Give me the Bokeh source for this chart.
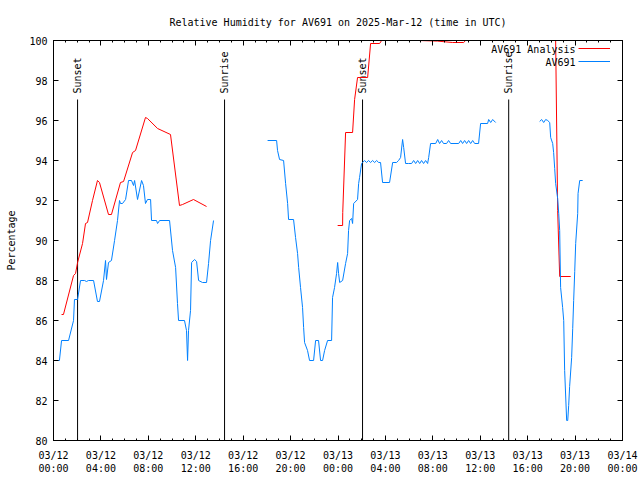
import math
from bokeh.plotting import figure
from bokeh.models import FixedTicker, LinearAxis, Range1d, Legend, LegendItem, Label
from bokeh.core.properties import value
from bokeh.embed import file_html
from bokeh.resources import INLINE

NaN = float("nan")

# Hours since 03/12 00:00 UTC
analysis_hours = [0.68, 0.84, 1.69, 1.86, 2.03, 2.45, 2.70, 2.87, 3.29, 3.71, 3.88, 4.64, 4.89,
                  5.65, 5.91, 6.67, 6.92, 7.76, 7.93, 8.78, 9.87, 10.63, 10.89, 11.81, 12.91,
                  NaN,
                  23.97, 24.39, 24.40, 24.64, 25.23, 25.40, 25.65, 26.50, 26.75, 27.51, 27.68,
                  30.80, 32.40, 33.67, 34.60, 34.77, 38.00, 42.36, 42.53, 42.70, 43.63]
analysis_rh = [86.3, 86.3, 88.25, 88.35, 88.9, 89.85, 90.85, 90.9, 92.0, 93.0, 92.9, 91.3, 91.3,
               92.9, 92.95, 94.4, 94.5, 96.15, 96.1, 95.6, 95.3, 91.75, 91.8, 92.05, 91.7,
               NaN,
               90.75, 90.75, 91.4, 95.4, 95.4, 97.05, 98.15, 98.15, 99.85, 99.85, 100.0,
               100.0, 99.97, 99.9, 99.9, 100.0, 100.0, 100.0, 91.5, 88.2, 88.2]

obs_hours = [0.0, 0.5, 0.68, 1.27, 1.69, 1.77, 2.03, 2.28, 2.62, 2.78, 2.95, 3.38, 3.71, 3.88,
             4.22, 4.39, 4.47, 4.64, 4.89, 5.15, 5.40, 5.57, 5.65, 5.82, 6.08, 6.33, 6.58, 6.75,
             6.84, 7.09, 7.43, 7.59, 7.76, 7.93, 8.19, 8.27, 8.69, 8.78, 8.95, 9.79, 10.04, 10.30,
             10.46, 10.55, 11.05, 11.22, 11.31, 11.39, 11.56, 11.65, 11.90, 12.07, 12.24, 12.57,
             12.91, 13.08, 13.25, 13.50,
             NaN,
             18.06, 18.82, 18.90, 19.07, 19.41, 19.58, 19.75, 19.83, 20.25, 20.42, 20.59, 20.68,
             20.84, 21.01, 21.10, 21.18, 21.43, 21.60, 21.94, 22.11, 22.36, 22.53, 22.70, 22.87,
             23.12, 23.46, 23.54, 23.71, 23.88, 23.97, 24.05, 24.14, 24.39, 24.64, 24.81, 24.89,
             24.98, 25.15, 25.23, 25.32, 25.65, 25.74, 25.82, 25.99, 26.08, 26.24, 26.41, 26.58,
             26.75, 26.92, 27.09, 27.26, 27.43, 27.59, 27.76, 28.35, 28.61, 28.94, 29.11, 29.28,
             29.45, 29.54, 29.70, 29.96, 30.21, 30.38, 30.55, 30.72, 30.89, 31.05, 31.22, 31.39,
             31.56, 31.65, 31.81, 32.24, 32.41, 32.57, 32.74, 32.90, 33.16, 33.33, 33.50, 34.18,
             34.35, 34.51, 34.68, 34.85, 35.02, 35.19, 35.36, 35.53, 35.86, 36.03, 36.62, 36.71,
             36.88, 37.05, 37.30,
             NaN,
             41.01, 41.18, 41.35, 41.52, 41.69, 41.86, 41.94, 42.11, 42.19, 42.28, 42.36, 42.53,
             42.62, 42.70, 42.78, 42.95, 43.04, 43.12, 43.29, 43.38, 43.46, 43.54, 43.71, 43.80,
             43.88, 43.97, 44.05, 44.22, 44.25, 44.39, 44.64]
obs_rh = [84.0, 84.0, 85.0, 85.0, 86.0, 87.05, 87.05, 88.0, 88.0, 87.95, 88.0, 88.0, 86.95, 86.95,
          88.0, 89.0, 88.05, 88.9, 89.0, 90.0, 91.0, 92.0, 91.85, 91.85, 92.05, 93.0, 93.0, 92.75,
          93.0, 92.05, 93.0, 92.75, 91.85, 92.05, 92.05, 91.0, 91.0, 90.85, 91.0, 91.0, 89.5, 88.65,
          86.85, 86.0, 86.0, 85.5, 84.0, 85.5, 86.5, 88.9, 89.05, 88.95, 88.0, 87.9,
          87.9, 88.85, 90.0, 91.0,
          NaN,
          95.0, 95.0, 94.5, 94.05, 94.0, 92.85, 91.85, 91.05, 91.05, 90.15, 89.35, 88.65,
          87.65, 86.65, 85.65, 84.9, 84.5, 84.0, 84.0, 85.0, 85.0, 84.0, 84.0, 84.5,
          85.0, 85.0, 87.15, 87.65, 88.35, 88.9, 88.35, 87.9, 88.0, 88.85, 89.35, 90.5,
          91.0, 91.1, 90.85, 91.85, 92.05, 92.85, 93.15, 93.85, 93.9, 94.0, 93.9, 94.0,
          93.9, 94.0, 93.9, 94.0, 93.9, 93.9, 92.9, 92.9, 93.9, 93.9, 94.0, 94.15,
          95.05, 94.65, 93.85, 93.85, 93.85, 94.0, 93.85, 94.0, 93.85, 94.0, 93.85, 94.0,
          93.85, 94.15, 94.85, 94.85, 95.05, 94.85, 95.0, 94.85, 94.85, 95.0, 94.85, 94.85,
          95.0, 94.85, 95.0, 94.85, 95.0, 94.85, 95.0, 94.85, 94.85, 95.85, 95.85, 96.05,
          95.9, 96.05, 95.9,
          NaN,
          95.95, 96.05, 95.9, 96.05, 96.0, 95.9, 95.15, 94.85, 94.4, 93.6, 92.85, 92.1,
          91.35, 90.5, 87.65, 86.65, 86.0, 83.5, 81.0, 81.0, 81.75, 82.7, 84.15, 85.6,
          87.0, 88.45, 89.85, 91.35, 92.35, 93.0, 93.0]

event_hours = [2.03, 14.43, 26.07, 38.40]
event_labels = ["Sunset", "Sunrise", "Sunset", "Sunrise"]
event_line_top = 97.05
event_label_y = 97.35

series_names = ["AV691 Analysis", "AV691"]

x_ticks = [0, 4, 8, 12, 16, 20, 24, 28, 32, 36, 40, 44, 48]
x_tick_labels = ["03/12\n00:00", "03/12\n04:00", "03/12\n08:00", "03/12\n12:00",
                 "03/12\n16:00", "03/12\n20:00", "03/13\n00:00", "03/13\n04:00",
                 "03/13\n08:00", "03/13\n12:00", "03/13\n16:00", "03/13\n20:00",
                 "03/14\n00:00"]
x_minor = list(range(0, 49))
y_ticks = [80, 82, 84, 86, 88, 90, 92, 94, 96, 98, 100]

FONT = "DejaVu Sans Mono"
FS = "10px"
RED = "#ff0000"
BLUE = "#0080ff"

p = figure(width=640, height=480, output_backend="svg", toolbar_location=None,
           x_range=Range1d(0, 48), y_range=Range1d(80, 100),
           title="Relative Humidity for AV691 on 2025-Mar-12 (time in UTC)",
           min_border_left=53, min_border_right=18, min_border_top=40, min_border_bottom=40)

p.title.align = "center"
p.title.text_font = FONT
p.title.text_font_size = FS
p.title.text_font_style = "normal"
p.title.text_color = "black"
p.title.standoff = 26

p.grid.visible = False
p.outline_line_color = "black"
p.outline_line_alpha = 1
p.outline_line_width = 1
p.background_fill_color = "white"
p.border_fill_color = "white"

xt = FixedTicker(ticks=x_ticks, minor_ticks=x_minor)
yt = FixedTicker(ticks=y_ticks, minor_ticks=[])

def style_axis(ax, ticker, labels=True):
    ax.ticker = ticker
    ax.axis_line_color = "black"
    ax.major_tick_line_color = "black"
    ax.minor_tick_line_color = "black"
    ax.major_tick_in = 5
    ax.major_tick_out = 0
    ax.minor_tick_in = 2
    ax.minor_tick_out = 0
    ax.major_label_text_font = FONT
    ax.major_label_text_font_size = FS
    ax.major_label_text_color = "black"
    if not labels:
        ax.major_label_overrides = {t: "" for t in ticker.ticks}
        ax.major_label_standoff = 0

style_axis(p.xaxis[0], xt)
p.xaxis[0].major_label_overrides = dict(zip(x_ticks, x_tick_labels))
p.xaxis[0].major_label_standoff = 9
style_axis(p.yaxis[0], yt)
p.yaxis[0].major_label_standoff = 6
p.yaxis[0].axis_label = "Percentage"
p.yaxis[0].axis_label_text_font = FONT
p.yaxis[0].axis_label_text_font_size = FS
p.yaxis[0].axis_label_text_font_style = "normal"
p.yaxis[0].axis_label_text_color = "black"
p.yaxis[0].axis_label_standoff = 9

top_ax = LinearAxis()
style_axis(top_ax, xt, labels=False)
p.add_layout(top_ax, "above")
right_ax = LinearAxis()
style_axis(right_ax, yt, labels=False)
p.add_layout(right_ax, "right")

# Sunrise / sunset markers
p.segment(x0=event_hours, y0=[80] * len(event_hours), x1=event_hours,
          y1=[event_line_top] * len(event_hours), line_color="black", line_width=1)
p.text(x=event_hours, y=[event_label_y] * len(event_hours), text=event_labels,
       angle=math.pi / 2, text_align="left", text_baseline="middle",
       text_font=value(FONT), text_font_size=FS, text_color="black")

r1 = p.line(analysis_hours, analysis_rh, line_color=RED, line_width=1)
r2 = p.line(obs_hours, obs_rh, line_color=BLUE, line_width=1)

# gnuplot-style key: sample lines via Legend, names right-aligned to their left
legend = Legend(items=[LegendItem(label=" ", renderers=[r1]),
                       LegendItem(label=" ", renderers=[r2])],
                location=(523, 371), background_fill_alpha=0, border_line_alpha=0,
                label_text_font=FONT, label_text_font_size=FS,
                glyph_width=32, glyph_height=12, label_height=12, spacing=1,
                label_standoff=0, padding=2, margin=0)
p.add_layout(legend)

for i, name in enumerate(series_names):
    p.add_layout(Label(x=522, y=391 - 13 * i, x_units="screen", y_units="screen",
                       text=name, text_align="right", text_baseline="middle",
                       text_font=FONT, text_font_size=FS, text_color="black"))

open("out.html", "w").write(file_html(p, INLINE))
